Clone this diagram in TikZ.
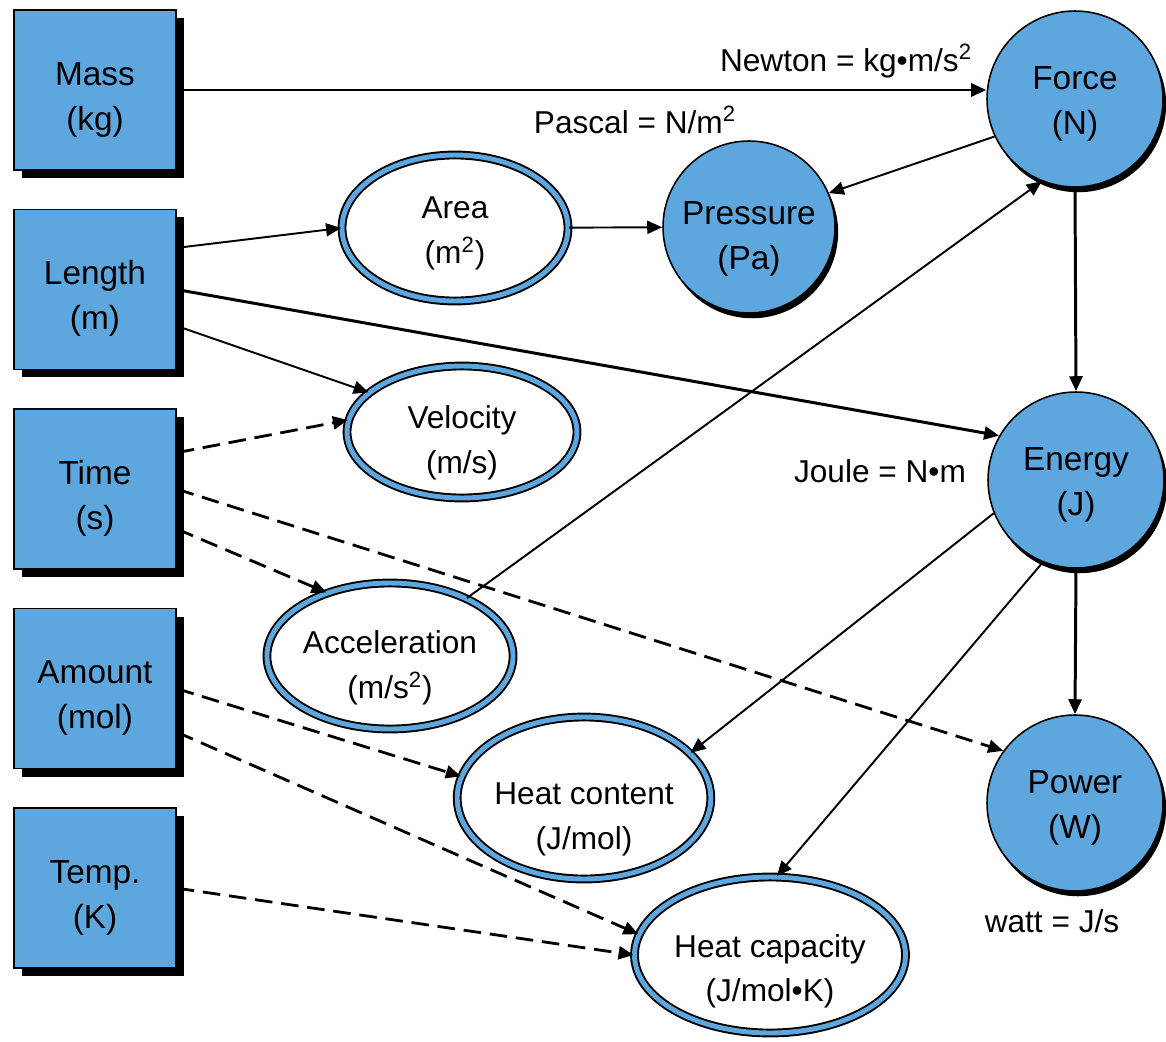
\documentclass[tikz,border=0pt]{standalone}
\usepackage{fontspec}
\setmainfont{Liberation Sans}
\usetikzlibrary{arrows.meta, positioning, shapes.geometric, shadows}
\definecolor{unitblue}{RGB}{94,167,222}

\begin{document}
\begin{tikzpicture}[x=0.02cm, y=-0.02cm,
    sink/.style={execute at begin node={\rule{0pt}{#1}}},
    base/.style={draw, fill=unitblue, line width=0.9pt, minimum width=3.24cm,
                 minimum height=3.2cm, align=center, font=\fontsize{19}{25.5}\selectfont,
                 sink=49.5pt,
                 drop shadow={shadow xshift=4.5pt, shadow yshift=-4.5pt, fill=black, opacity=1}},
    derived/.style={circle, draw, fill=unitblue, line width=0.9pt, minimum size=3.52cm,
                    inner sep=0pt, align=center, font=\fontsize{19}{25.5}\selectfont, sink=44pt,
                    drop shadow={shadow xshift=1.8pt, shadow yshift=-3pt, fill=black, opacity=1}},
    combo/.style={ellipse, draw=black, line width=1.1pt, double=unitblue, double distance=2.8pt,
                  fill=white, inner xsep=0pt, inner ysep=-8pt, align=center,
                  font=\fontsize{18}{25.5}\selectfont},
    rel/.style={anchor=base, font=\fontsize{18}{22}\selectfont},
    arr/.style={-{Triangle[length=3mm, width=2.6mm]}, line width=1.1pt},
    arrw/.style={arr, line width=1.7pt},
    dep/.style={arr, line width=1.6pt, dash pattern=on 10pt off 5pt},
    node distance=0.76cm
]
\useasboundingbox (0,0) rectangle (1166,1041);

% base units
\node[base] (mass) at (95,90) {Mass\\(kg)};
\node[base, below=of mass] (len) {Length\\(m)};
\node[base, below=of len] (time) {Time\\(s)};
\node[base, below=of time] (amt) {Amount\\(mol)};
\node[base, below=of amt] (temp) {Temp.\\(K)};

% derived units
\node[derived] (force) at (1075,99) {Force\\(N)};
\node[derived, sink=52pt, minimum size=3.44cm] (pres) at (749,227) {Pressure\\(Pa)};
\node[derived] (energy) at (1076,480) {Energy\\(J)};
\node[derived] (power) at (1075,803) {Power\\(W)};

\node[combo, sink=44.3pt, minimum width=4.52cm, minimum height=2.92cm] (area) at (455,228) {Area\\(m\textsuperscript{2})};
\node[combo, sink=51pt, minimum width=4.6cm, minimum height=2.64cm] (vel) at (462,432) {Velocity\\(m/s)};
\node[combo, sink=52.3pt, minimum width=4.74cm, minimum height=2.92cm] (acc) at (390,656) {Acceleration\\(m/s\textsuperscript{2})};
\node[combo, sink=62pt, minimum width=4.92cm, minimum height=3.24cm] (hcont) at (584,798) {Heat content\\(J/mol)};
\node[combo, sink=57pt, minimum width=4.9cm, minimum height=3.12cm] (hcap) at (770,955) {Heat capacity\\(J/mol•K)};

% relations
\node[rel] (newton) at (846,71) {Newton = kg•m/s\textsuperscript{2}};
\node[rel] (pascal) at (635,133) {Pascal = N/m\textsuperscript{2}};
\node[rel] (joule) at (880,482) {Joule = N•m};
\node[rel] (watt) at (1052,932) {watt = J/s};

\draw[arrw] (mass.east) -- (mass.east -| force.west);
\draw[arr] (len.27) -- (area.west);
\draw[arrw] (len.east) -- (energy.150);
\draw[arr] (len.-24) -- (vel.157);
\draw[dep] (time.24) -- (vel.174);
\draw[dep] (time.east) -- (power.144);
\draw[dep] (time.-26) -- (acc.135);
\draw[dep] (amt.east) -- (hcont.170);
\draw[dep] (amt.-28) -- (hcap.171);
\draw[dep] (temp.east) -- (hcap.west);
\draw[arr] (area) -- (pres);
\draw[arr] (force.205) -- (pres.23);
\draw[arr] (acc.37) -- (force.248);
\draw[arrw] (force.south) -- (energy.north);
\draw[arrw] (energy.south) -- (power.north);
\draw[arr] (energy.202) -- (hcont.23);
\draw[arr] (energy.248) -- (hcap.85);
\end{tikzpicture}
\end{document}
